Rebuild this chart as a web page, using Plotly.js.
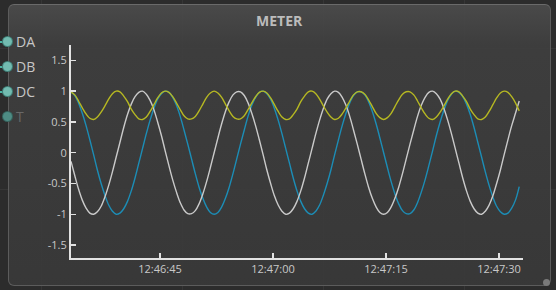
<!DOCTYPE html>
<html>
<head>
<meta charset="utf-8">
<script src="https://cdn.plot.ly/plotly-3.0.1.min.js"></script>
<style>
  html, body { margin: 0; padding: 0; }
  body {
    width: 556px; height: 290px; overflow: hidden; position: relative;
    background-color: #2c2c2c;
    background-image:
      linear-gradient(to right, #363636 1px, transparent 1px),
      linear-gradient(to bottom, #363636 1px, transparent 1px);
    background-size: 141px 141px;
    background-position: 41px 48px;
  }
  #panel {
    position: absolute; left: 8px; top: 4px; width: 541px; height: 280px;
    border: 1px solid #5c5c5c; border-top-color: #6a6a6a; border-radius: 6px;
    background: linear-gradient(to bottom, rgba(76,76,76,0.92) 0px, rgba(63,63,63,0.9) 40px, rgba(57,57,57,0.9) 100%);
  }
  .wire { position: absolute; left: 0; width: 8px; height: 2px; background: #4fb3a4; }
  .port { position: absolute; width: 9px; height: 9px; border-radius: 50%;
          background: #72bbb0; box-shadow: 0 0 0 1px #3f7f77; }
  .port.dim { background: #4e8c84; box-shadow: 0 0 0 1px #35635d; }
  #handle { position: absolute; left: 543px; top: 279px; width: 7px; height: 7px; border-radius: 50%; background: #7a7a7a; }
  #chart { position: absolute; left: 0; top: 0; width: 556px; height: 290px; }
</style>
</head>
<body>
<div id="panel"></div>
<div class="wire" style="top:41px"></div>
<div class="wire" style="top:66px"></div>
<div class="wire" style="top:91px"></div>
<div class="port" style="left:3px; top:37px"></div>
<div class="port" style="left:3px; top:62px"></div>
<div class="port" style="left:3px; top:87px"></div>
<div class="port dim" style="left:3px; top:112px"></div>
<div id="handle"></div>
<div id="chart"></div>
<script>
// ---- data ----
const chartTitle = 'METER';
const portLabels = ['DA', 'DB', 'DC', 'T'];
const startTime = '2024-01-01 12:46:33.190';
const endTime = '2024-01-01 12:47:33.190';
const sampleStepMs = 500;

// yellow series
const daValues = [0.99,0.94,0.84,0.73,0.63,0.56,0.54,0.58,0.66,0.76,0.87,0.96,1.00,0.99,0.92,0.83,0.71,0.62,0.55,0.54,
  0.58,0.67,0.78,0.89,0.97,1.00,0.98,0.91,0.81,0.70,0.60,0.55,0.55,0.59,0.68,0.79,0.90,0.97,1.00,0.97,
  0.90,0.79,0.68,0.59,0.55,0.55,0.60,0.70,0.81,0.91,0.98,1.00,0.97,0.89,0.78,0.67,0.58,0.54,0.55,0.62,
  0.71,0.83,0.92,0.99,1.00,0.96,0.87,0.76,0.66,0.58,0.54,0.56,0.63,0.73,0.84,0.94,0.99,0.99,0.95,0.86,
  0.75,0.64,0.57,0.54,0.57,0.64,0.75,0.86,0.95,0.99,0.99,0.94,0.84,0.73,0.63,0.56,0.54,0.58,0.66,0.76,
  0.87,0.96,1.00,0.99,0.92,0.83,0.71,0.62,0.55,0.54,0.58,0.67,0.78,0.89,0.97,1.00,0.98,0.91,0.81,0.68];
// blue series
const dbValues = [0.99,0.93,0.81,0.64,0.44,0.21,-0.03,-0.28,-0.50,-0.69,-0.85,-0.95,-1.00,-0.98,-0.91,-0.79,-0.62,-0.41,-0.17,0.07,
  0.31,0.53,0.72,0.87,0.96,1.00,0.98,0.90,0.77,0.59,0.37,0.14,-0.10,-0.34,-0.56,-0.74,-0.88,-0.97,-1.00,-0.97,
  -0.88,-0.74,-0.56,-0.34,-0.10,0.14,0.37,0.59,0.77,0.90,0.98,1.00,0.96,0.87,0.72,0.53,0.31,0.07,-0.17,-0.41,
  -0.62,-0.79,-0.91,-0.98,-1.00,-0.95,-0.85,-0.69,-0.50,-0.28,-0.03,0.21,0.44,0.64,0.81,0.93,0.99,0.99,0.94,0.83,
  0.67,0.47,0.24,0.00,-0.24,-0.47,-0.67,-0.83,-0.94,-0.99,-0.99,-0.93,-0.81,-0.64,-0.44,-0.21,0.03,0.28,0.50,0.69,
  0.85,0.95,1.00,0.98,0.91,0.79,0.62,0.41,0.17,-0.07,-0.31,-0.53,-0.72,-0.87,-0.96,-1.00,-0.98,-0.90,-0.77,-0.55];
// white series
const dcValues = [-0.14,-0.37,-0.59,-0.77,-0.90,-0.98,-1.00,-0.96,-0.87,-0.72,-0.53,-0.31,-0.07,0.17,0.41,0.62,0.79,0.91,0.98,1.00,
  0.95,0.85,0.70,0.50,0.28,0.03,-0.21,-0.44,-0.64,-0.81,-0.93,-0.99,-0.99,-0.94,-0.83,-0.67,-0.47,-0.24,0.00,0.24,
  0.47,0.67,0.83,0.94,0.99,0.99,0.93,0.81,0.64,0.44,0.21,-0.03,-0.28,-0.50,-0.70,-0.85,-0.95,-1.00,-0.98,-0.91,
  -0.79,-0.62,-0.41,-0.17,0.07,0.31,0.53,0.72,0.87,0.96,1.00,0.98,0.90,0.77,0.59,0.37,0.14,-0.10,-0.34,-0.56,
  -0.74,-0.88,-0.97,-1.00,-0.97,-0.88,-0.74,-0.56,-0.34,-0.10,0.14,0.37,0.59,0.77,0.90,0.98,1.00,0.96,0.87,0.72,
  0.53,0.31,0.07,-0.17,-0.41,-0.62,-0.79,-0.91,-0.98,-1.00,-0.95,-0.85,-0.70,-0.50,-0.28,-0.03,0.21,0.44,0.64,0.84];

const yTickVals = [-1.5, -1, -0.5, 0, 0.5, 1, 1.5];
const yTickText = ['-1.5', '-1', '-0.5', '0', '0.5', '1', '1.5'];
const xTickStart = '2024-01-01 12:46:45';
const xTickStepMs = 15000;

// ---- build ----
function fmt(ms) { return new Date(ms).toISOString().replace('T', ' ').replace('Z', ''); }
const t0 = Date.parse(startTime.replace(' ', 'T') + 'Z');
const times = daValues.map((_, i) => fmt(t0 + i * sampleStepMs));

const font = 'Open Sans, Noto Sans, sans-serif';
const traces = [
  { x: times, y: dbValues, name: 'DB', mode: 'lines', line: { color: '#1c8db6', width: 1.4, shape: 'spline' } },
  { x: times, y: dcValues, name: 'DC', mode: 'lines', line: { color: '#cacaca', width: 1.4, shape: 'spline' } },
  { x: times, y: daValues, name: 'DA', mode: 'lines', line: { color: '#b6b822', width: 1.4, shape: 'spline' } }
];

const portY = [1.0155, 0.8981, 0.7808, 0.6634];
const annotations = portLabels.map((lab, i) => ({
  text: lab, xref: 'paper', yref: 'paper', x: -0.127, y: portY[i],
  xanchor: 'left', yanchor: 'middle', showarrow: false,
  font: { family: font, size: 14, color: i === 3 ? '#686868' : '#c6c6c6' }
}));

const axisCommon = {
  showgrid: false, zeroline: false, showline: true, linecolor: '#e2e2e2', linewidth: 2,
  ticks: 'inside', ticklen: 5, tickwidth: 1.5, tickcolor: '#e2e2e2',
  tickfont: { family: font, size: 11, color: '#c8c8c8' }
};

const layout = {
  width: 556, height: 290,
  margin: { l: 71, r: 33, t: 45, b: 32, pad: 0 },
  paper_bgcolor: 'rgba(0,0,0,0)', plot_bgcolor: 'rgba(0,0,0,0)',
  showlegend: false,
  title: { text: chartTitle, x: 0.502, xanchor: 'center', y: 0.928, yanchor: 'middle',
           font: { family: font, size: 14, color: '#bcbcbc', weight: 'bold' } },
  xaxis: Object.assign({}, axisCommon, {
    type: 'date', range: [startTime, endTime], tickformat: '%H:%M:%S',
    tick0: xTickStart, dtick: xTickStepMs
  }),
  yaxis: Object.assign({}, axisCommon, {
    range: [-1.71, 1.75], tickmode: 'array', tickvals: yTickVals, ticktext: yTickText
  }),
  annotations: annotations
};

Plotly.newPlot('chart', traces, layout, { staticPlot: true, displayModeBar: false });
</script>
</body>
</html>
